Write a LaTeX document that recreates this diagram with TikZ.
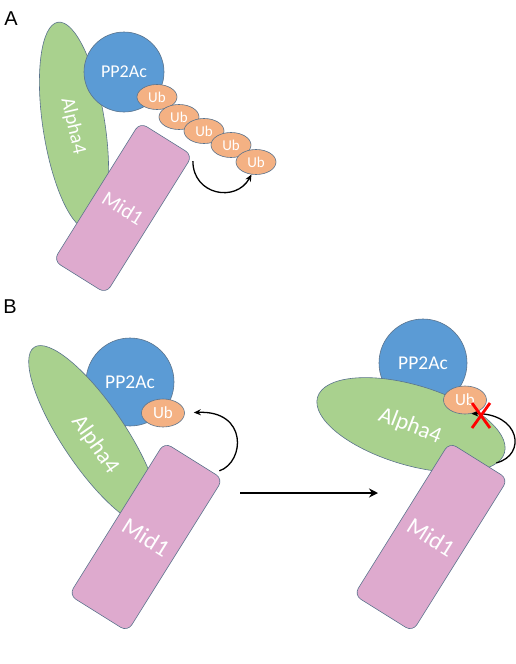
\documentclass[tikz,border=0pt]{standalone}
\usepackage{fontspec}
\setmainfont{Carlito}
\newfontfamily\arialfont{Liberation Sans}
\usetikzlibrary{shapes.geometric,arrows.meta,calc}
\definecolor{edgeC}{RGB}{90,115,140}
\definecolor{greenC}{RGB}{169,209,142}
\definecolor{blueC}{RGB}{91,155,213}
\definecolor{orangeC}{RGB}{244,177,131}
\definecolor{pinkC}{RGB}{222,170,206}
\tikzset{
  protein/.style={draw=edgeC, line width=0.6pt, inner sep=0pt},
  a4shape/.style={protein, ellipse, fill=greenC},
  ppshape/.style={protein, circle, fill=blueC, text=white},
  ubshape/.style={protein, ellipse, fill=orangeC, text=white},
  ubA/.style={ubshape, minimum width=40pt, minimum height=25pt, font=\fontsize{15}{15}\selectfont},
  ubB/.style={ubshape, minimum width=43pt, minimum height=28pt, font=\fontsize{17}{17}\selectfont},
  midshape/.style={protein, rectangle, rounded corners=8pt, fill=pinkC, text=white},
  wtext/.style={text=white, inner sep=0pt},
  curvarrow/.style={draw=black, line width=1.3pt, -{Stealth[length=7pt,width=6pt]}},
  panellabel/.style={font=\arialfont\fontsize{20}{20}\selectfont, inner sep=0pt}
}
\begin{document}
\begin{tikzpicture}[x=1pt,y=-1pt]
\useasboundingbox (0,0) rectangle (516,664);
% ---------- Panel A ----------
\node[panellabel] (labA) at (11,19) {A};
\node[a4shape, minimum width=210pt, minimum height=62pt, rotate=-81.2] (a4A) at (74,126) {};
\node[wtext, rotate=-77, font=\fontsize{20}{20}\selectfont] (a4tA) at (73,126) {Alpha4};
\node[ppshape, minimum size=80pt, font=\fontsize{18}{18}\selectfont] (ppA) at (124,72) {PP2Ac};
\node[ubA] (ubA1) at (157,97) {Ub};
\node[ubA] (ubA2) at (179,117) {Ub};
\node[ubA] (ubA3) at (204,131) {Ub};
\node[ubA] (ubA4) at (231,145) {Ub};
\node[ubA] (ubA5) at (256,162) {Ub};
\node[midshape, minimum width=62pt, minimum height=163pt, rotate=-32, font=\fontsize{21}{21}\selectfont] (mA) at (123,208) {Mid1};
\coordinate (sA) at ($(mA.north east)+(0,6)$);
\draw[curvarrow] (sA) .. controls (193,195) and (236,203) .. (ubA5.250);
% ---------- Panel B ----------
\node[panellabel] (labB) at (10,307) {B};
% left complex
\node[ppshape, minimum size=88pt, font=\fontsize{19.5}{19.5}\selectfont] (ppB) at (130,382) {PP2Ac};
\node[a4shape, minimum width=214pt, minimum height=63pt, rotate=-56] (a4B) at (94,436) {};
\node[wtext, rotate=-55, font=\fontsize{23}{23}\selectfont] (a4tB) at (95,445) {Alpha4};
\node[ubB] (ubB1) at (163,413) {Ub};
\node[midshape, minimum width=69pt, minimum height=180pt, rotate=-32, font=\fontsize{24}{24}\selectfont] (mB) at (146,537) {Mid1};
\coordinate (sB) at ($(mB.north east)+(-4,-8)$);
\draw[curvarrow, shorten >=9pt] (sB) .. controls (245,462) and (248,410) .. (ubB1.east);
% transition arrow
\coordinate (tS) at (240,493);
\coordinate (tE) at (378,493);
\draw[line width=2pt, -{Stealth[length=9pt,width=9pt]}] (tS) -- (tE);
% right complex
\node[ppshape, minimum size=88pt, font=\fontsize{19.5}{19.5}\selectfont] (ppR) at (423,363) {PP2Ac};
\node[a4shape, minimum width=195pt, minimum height=80pt, rotate=-16.6] (a4R) at (411,425) {};
\node[wtext, rotate=-21, font=\fontsize{23}{23}\selectfont] (a4tR) at (410,426) {Alpha4};
\node[ubB] (ubR1) at (465,400) {Ub};
\node[midshape, minimum width=69pt, minimum height=180pt, rotate=-32, font=\fontsize{24}{24}\selectfont] (mR) at (431,537) {Mid1};
\coordinate (sR) at ($(mR.north east)+(-12,-16)$);
\draw[curvarrow] (sR) .. controls (527,455) and (520,413) .. (ubR1.-65);
% red cross
\coordinate (xa) at (472,403);
\coordinate (xb) at (490,428);
\coordinate (xc) at (490,403);
\coordinate (xd) at (472,428);
\draw[red, line width=2.8pt] (xa) -- (xb) (xc) -- (xd);
\end{tikzpicture}
\end{document}
